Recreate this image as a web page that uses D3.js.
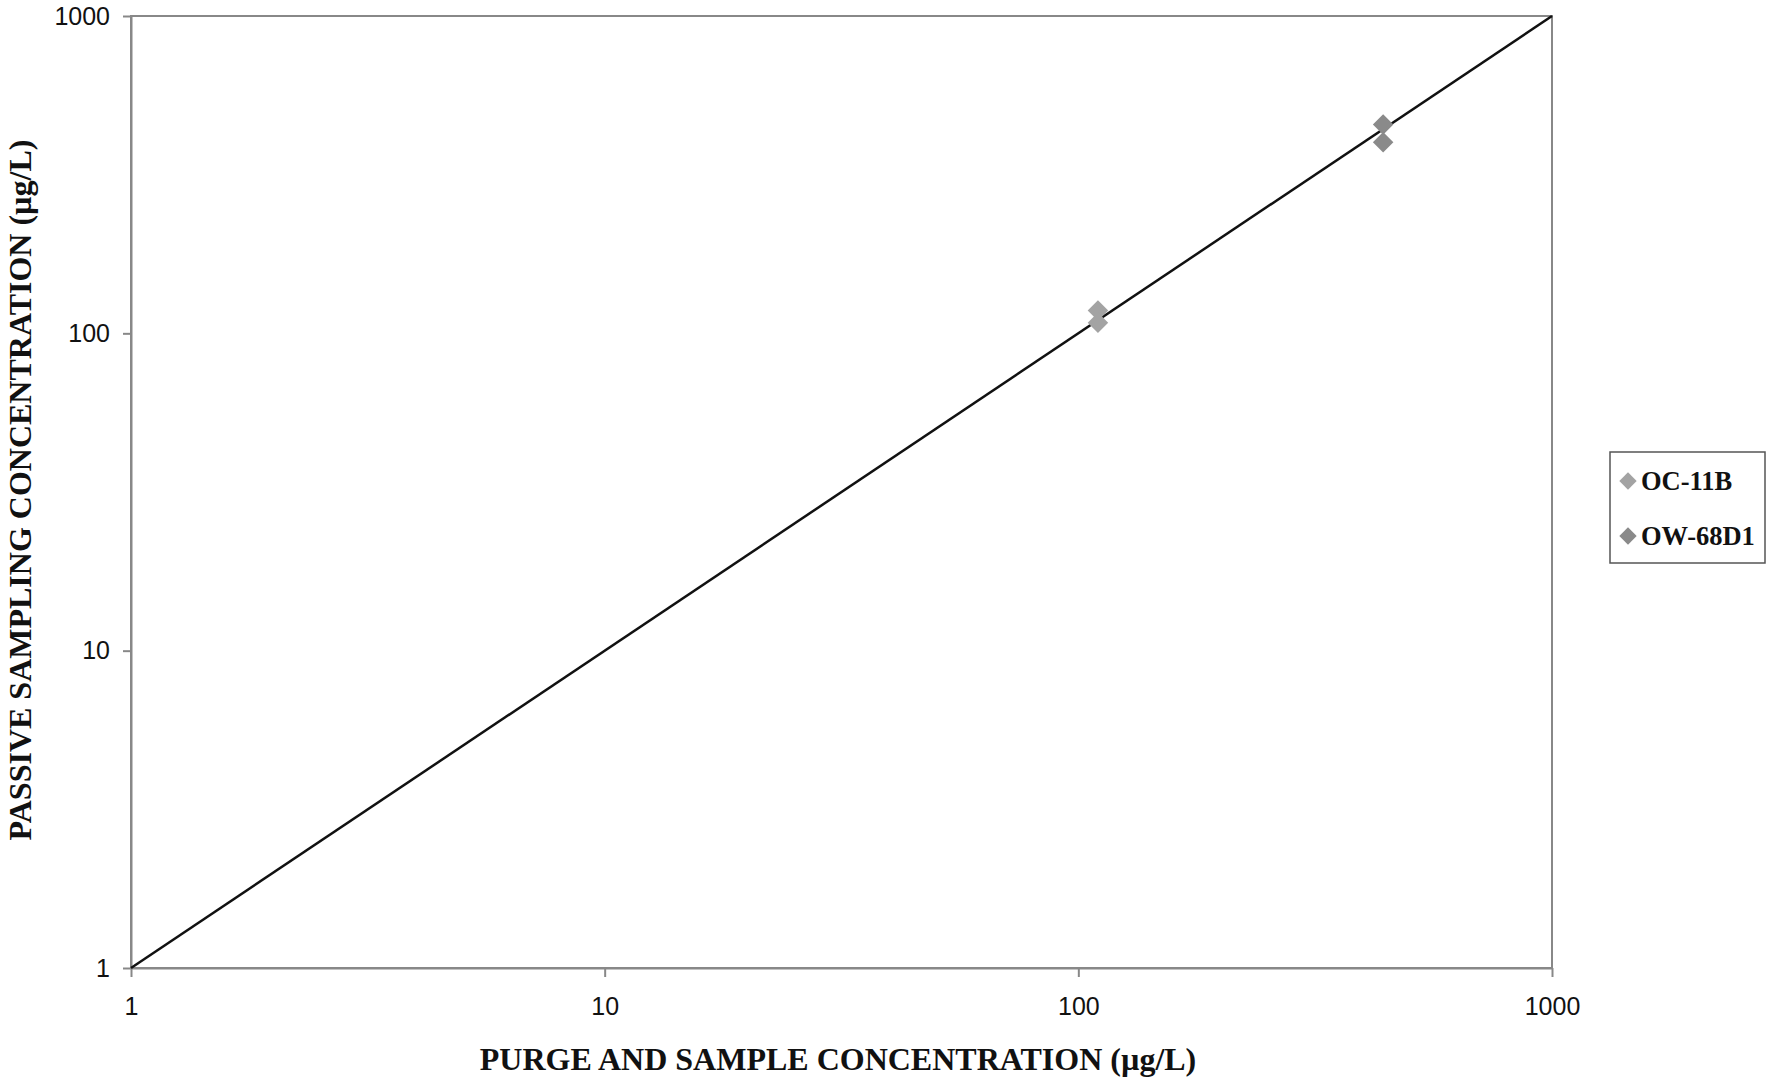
<!DOCTYPE html>
<head>
<meta charset="utf-8">
<style>
body { margin: 0; background: #fff; }
svg { display: block; }
.axis text { font-family: "Liberation Sans", Arial, sans-serif; font-size: 25px; fill: #111; }
.axis path, .axis line { stroke: #888; stroke-width: 2px; }
.title { font-family: "Liberation Serif", "Times New Roman", serif; font-weight: bold; font-size: 32px; fill: #111; }
.legend text { font-family: "Liberation Serif", "Times New Roman", serif; font-weight: bold; font-size: 26.5px; fill: #111; }
</style>
</head>
<body>
<svg width="1767" height="1078"></svg>
<script src="https://d3js.org/d3.v7.min.js"></script>
<script>
// values (µg/L)
var tickValues = [1, 10, 100, 1000];
var series = ["OC-11B", "OW-68D1"];
var seriesColours = ["#a3a3a3", "#8a8a8a"];
var oc11bX = [110, 110];
var oc11bY = [118, 108];
var ow68d1X = [440, 440];
var ow68d1Y = [455, 400];
var lineX = [1, 1000];
var lineY = [1, 1000];

var svg = d3.select("svg");
var plotLeft = 131, plotRight = 1552, plotTop = 16, plotBottom = 968;

var x = d3.scaleLog().domain([1, 1000]).range([plotLeft, plotRight]);
var y = d3.scaleLog().domain([1, 1000]).range([plotBottom, plotTop]);

// plot frame
svg.append("rect")
  .attr("x", plotLeft).attr("y", plotTop)
  .attr("width", plotRight - plotLeft).attr("height", plotBottom - plotTop)
  .attr("fill", "none").attr("stroke", "#888").attr("stroke-width", 2);

var xAxis = d3.axisBottom(x)
  .tickValues(tickValues)
  .tickFormat(d3.format("d"))
  .tickSize(9).tickSizeOuter(0).tickPadding(20);

var yAxis = d3.axisLeft(y)
  .tickValues(tickValues)
  .tickFormat(d3.format("d"))
  .tickSize(8).tickSizeOuter(0).tickPadding(13);

svg.append("g").attr("class", "axis")
  .attr("transform", "translate(0," + plotBottom + ")")
  .call(xAxis);

svg.append("g").attr("class", "axis")
  .attr("transform", "translate(" + plotLeft + ",0)")
  .call(yAxis);

// 1:1 line
var lineData = lineX.map(function(d, i){ return [d, lineY[i]]; });
svg.append("path")
  .datum(lineData)
  .attr("fill", "none")
  .attr("stroke", "#111")
  .attr("stroke-width", 2.5)
  .attr("d", d3.line().x(function(d){ return x(d[0]); }).y(function(d){ return y(d[1]); }));

// points
var diamond = d3.symbol().type(d3.symbolSquare).size(210);
var pointSets = [
  oc11bX.map(function(d, i){ return [d, oc11bY[i]]; }),
  ow68d1X.map(function(d, i){ return [d, ow68d1Y[i]]; })
];
pointSets.forEach(function(pts, s){
  svg.append("g").selectAll("path")
    .data(pts)
    .enter().append("path")
    .attr("d", diamond)
    .attr("fill", seriesColours[s])
    .attr("transform", function(d){ return "translate(" + x(d[0]) + "," + y(d[1]) + ") rotate(45)"; });
});

// axis titles
svg.append("text").attr("class", "title")
  .attr("x", 838).attr("y", 1070)
  .attr("text-anchor", "middle")
  .text("PURGE AND SAMPLE CONCENTRATION (µg/L)");

svg.append("text").attr("class", "title")
  .attr("transform", "translate(31,490) rotate(-90)")
  .attr("text-anchor", "middle")
  .text("PASSIVE SAMPLING CONCENTRATION (µg/L)");

// legend
var legend = svg.append("g").attr("class", "legend");
legend.append("rect")
  .attr("x", 1610).attr("y", 452)
  .attr("width", 155).attr("height", 111)
  .attr("fill", "#fff").attr("stroke", "#555").attr("stroke-width", 1.5);

var legendSymbol = d3.symbol().type(d3.symbolSquare).size(150);
var item = legend.selectAll("g.item")
  .data(series)
  .enter().append("g")
  .attr("class", "item")
  .attr("transform", function(d, i){ return "translate(1628," + (481 + i * 55) + ")"; });

item.append("path")
  .attr("d", legendSymbol)
  .attr("fill", function(d, i){ return seriesColours[i]; })
  .attr("transform", "rotate(45)");

item.append("text")
  .attr("x", 13).attr("dy", "0.35em")
  .text(function(d){ return d; });
</script>
</body>
</html>
